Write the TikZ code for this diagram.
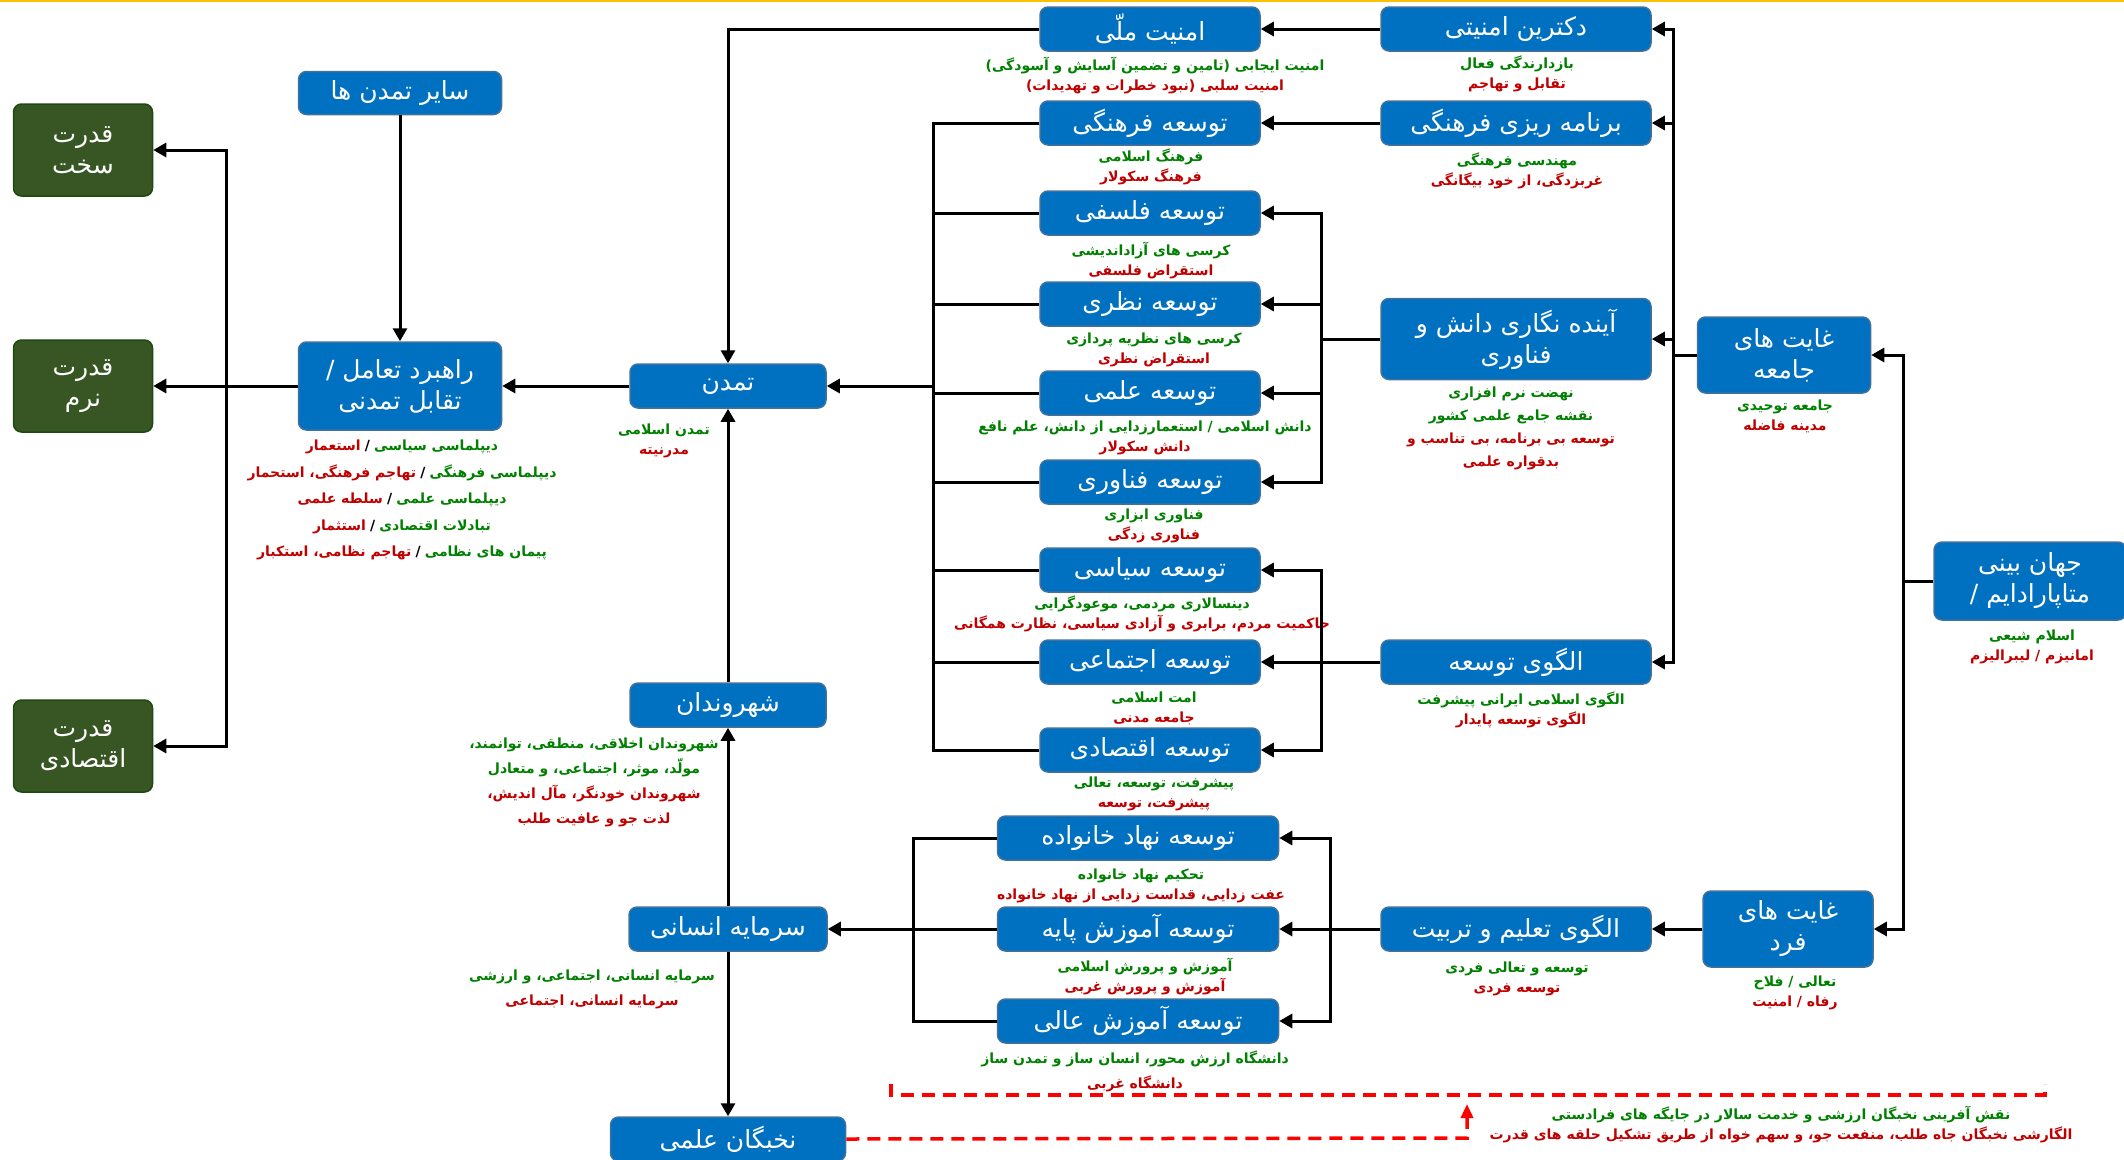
\documentclass[tikz,border=0pt]{standalone}
\usepackage{fontspec}
\usetikzlibrary{arrows.meta}
\newfontfamily\farsi[Script=Arabic]{DejaVu Sans}
\TeXXeTstate=1
\definecolor{boxblue}{HTML}{0070C0}
\definecolor{boxedge}{HTML}{41719C}
\definecolor{powergreen}{HTML}{375623}
\definecolor{poweredge}{HTML}{1C4A10}
\definecolor{txtgreen}{HTML}{008000}
\definecolor{txtred}{HTML}{C00000}
\definecolor{dashred}{HTML}{FF0000}
\definecolor{topline}{HTML}{FFC000}
\newcommand{\fa}[1]{\hbox{\beginR #1\endR}}
\newcommand{\fg}[1]{\hbox{\color{txtgreen}\beginR #1\endR}}
\newcommand{\fr}[1]{\hbox{\color{txtred}\beginR #1\endR}}
% green part on the right, red part on the left
\newcommand{\pair}[2]{\hbox{\fr{#2}\hspace{0.3em}/\hspace{0.3em}\fg{#1}}}
\begin{document}
\begin{tikzpicture}[
    x=1pt, y=-1pt,
    box/.style={draw=boxedge, fill=boxblue, line width=1.5pt, rounded corners=8pt,
        text=white, align=center, inner sep=2pt,
        font=\farsi\fontsize{25}{31}\selectfont},
    powerbox/.style={box, draw=poweredge, fill=powergreen, minimum width=139pt, minimum height=92pt},
    desc/.style={align=center, inner sep=0pt, font=\farsi\bfseries\fontsize{14}{20}\selectfont},
    link/.style={line width=3pt},
    arr/.style={link, -{Triangle[length=13pt,width=14pt]}},
    reddash/.style={draw=dashred, line width=3.5pt, dash pattern=on 13pt off 8pt}
]
    \useasboundingbox (0,0) rectangle (2124,1159);
    \draw[topline, line width=2pt] (0,1) -- (2124,1);

    % Right side boxes
    \node[box, minimum width=192pt, minimum height=78pt] (jahan) at (2030,581) {\fa{جهان بینی}\\\fa{متاپارادایم /}};
    \node[box, minimum width=173pt, minimum height=76pt] (ghayatJ) at (1784,355) {\fa{غایت های}\\\fa{جامعه}};
    \node[box, minimum width=170pt, minimum height=76pt] (ghayatF) at (1788,929) {\fa{غایت های}\\\fa{فرد}};

    \node[box, minimum width=270pt, minimum height=44pt] (doktrin) at (1516,29) {\fa{دکترین امنیتی}};
    \node[box, minimum width=270pt, minimum height=44pt] (barnameh) at (1516,123) {\fa{برنامه ریزی فرهنگی}};
    \node[box, minimum width=270pt, minimum height=81pt] (ayandeh) at (1516,339) {\fa{آینده نگاری دانش و}\\\fa{فناوری}};
    \node[box, minimum width=270pt, minimum height=44pt] (olgoo) at (1516,662) {\fa{الگوی توسعه}};
    \node[box, minimum width=270pt, minimum height=44pt] (talim) at (1516,929) {\fa{الگوی تعلیم و تربیت}};

    % Development boxes
    \node[box, minimum width=220pt, minimum height=44pt] (amniat) at (1150,29) {\fa{امنیت ملّی}};
    \node[box, minimum width=220pt, minimum height=44pt] (farhangi) at (1150,123) {\fa{توسعه فرهنگی}};
    \node[box, minimum width=220pt, minimum height=44pt] (falsafi) at (1150,213) {\fa{توسعه فلسفی}};
    \node[box, minimum width=220pt, minimum height=44pt] (nazari) at (1150,304) {\fa{توسعه نظری}};
    \node[box, minimum width=220pt, minimum height=44pt] (elmi) at (1150,393) {\fa{توسعه علمی}};
    \node[box, minimum width=220pt, minimum height=44pt] (fanavari) at (1150,482) {\fa{توسعه فناوری}};
    \node[box, minimum width=220pt, minimum height=44pt] (siasi) at (1150,570) {\fa{توسعه سیاسی}};
    \node[box, minimum width=220pt, minimum height=44pt] (ejtemaei) at (1150,662) {\fa{توسعه اجتماعی}};
    \node[box, minimum width=220pt, minimum height=44pt] (eghtesadi) at (1150,750) {\fa{توسعه اقتصادی}};
    \node[box, minimum width=281pt, minimum height=44pt] (khanevadeh) at (1138,838) {\fa{توسعه نهاد خانواده}};
    \node[box, minimum width=281pt, minimum height=44pt] (paye) at (1138,929) {\fa{توسعه آموزش پایه}};
    \node[box, minimum width=281pt, minimum height=44pt] (aali) at (1138,1021) {\fa{توسعه آموزش عالی}};

    % Middle column
    \node[box, minimum width=196pt, minimum height=44pt] (tamadon) at (728,386) {\fa{تمدن}};
    \node[box, minimum width=196pt, minimum height=44pt] (shahrvandan) at (728,705) {\fa{شهروندان}};
    \node[box, minimum width=198pt, minimum height=44pt] (sarmaye) at (728,929) {\fa{سرمایه انسانی}};
    \node[box, minimum width=235pt, minimum height=44pt] (nokhbegan) at (728,1139) {\fa{نخبگان علمی}};

    % Left side
    \node[box, minimum width=203pt, minimum height=43pt] (sayer) at (400,93) {\fa{سایر تمدن ها}};
    \node[box, minimum width=203pt, minimum height=88pt] (rahbord) at (400,386) {\fa{راهبرد تعامل /}\\\fa{تقابل تمدنی}};
    \node[powerbox] (sakht) at (83,150) {\fa{قدرت}\\\fa{سخت}};
    \node[powerbox] (narm) at (83,386) {\fa{قدرت}\\\fa{نرم}};
    \node[powerbox] (eghtesadiP) at (83,746) {\fa{قدرت}\\\fa{اقتصادی}};

    % Descriptions
    \node[desc] (jahanD) at (2032,647) {\fg{اسلام شیعی}\\\fr{امانیزم / لیبرالیزم}};
    \node[desc] (ghayatJD) at (1785,416) {\fg{جامعه توحیدی}\\\fr{مدینه فاضله}};
    \node[desc] (ghayatFD) at (1795,993) {\fg{تعالی / فلاح}\\\fr{رفاه / امنیت}};
    \node[desc] (doktrinD) at (1517,74) {\fg{بازدارندگی فعال}\\\fr{تقابل و تهاجم}};
    \node[desc] (barnamehD) at (1517,171) {\fg{مهندسی فرهنگی}\\\fr{غربزدگی، از خود بیگانگی}};
    \node[desc, font=\farsi\bfseries\fontsize{14}{23}\selectfont] (ayandehD) at (1511,428)
        {\fg{نهضت نرم افزاری}\\\fg{نقشه جامع علمی کشور}\\\fr{توسعه بی برنامه، بی تناسب و}\\\fr{بدقواره علمی}};
    \node[desc] (olgooD) at (1521,710) {\fg{الگوی اسلامی ایرانی پیشرفت}\\\fr{الگوی توسعه پایدار}};
    \node[desc] (talimD) at (1517,979) {\fg{توسعه و تعالی فردی}\\\fr{توسعه فردی}};

    \node[desc] (amniatD) at (1155,76) {\fg{امنیت ایجابی (تامین و تضمین آسایش و آسودگی)}\\\fr{امنیت سلبی (نبود خطرات و تهدیدات)}};
    \node[desc] (farhangiD) at (1151,167) {\fg{فرهنگ اسلامی}\\\fr{فرهنگ سکولار}};
    \node[desc] (falsafiD) at (1151,261) {\fg{کرسی های آزاداندیشی}\\\fr{استقراض فلسفی}};
    \node[desc] (nazariD) at (1154,350) {\fg{کرسی های نظریه پردازی}\\\fr{استقراض نظری}};
    \node[desc] (elmiD) at (1145,438) {\fg{دانش اسلامی / استعمارزدایی از دانش، علم نافع}\\\fr{دانش سکولار}};
    \node[desc] (fanavariD) at (1154,526) {\fg{فناوری ابزاری}\\\fr{فناوری زدگی}};
    \node[desc] (siasiD) at (1142,614) {\fg{دینسالاری مردمی، موعودگرایی}\\\fr{حاکمیت مردم، برابری و آزادی سیاسی، نظارت همگانی}};
    \node[desc] (ejtemaeiD) at (1154,708) {\fg{امت اسلامی}\\\fr{جامعه مدنی}};
    \node[desc] (eghtesadiD) at (1154,794) {\fg{پیشرفت، توسعه، تعالی}\\\fr{پیشرفت، توسعه}};
    \node[desc] (khanevadehD) at (1141,886) {\fg{تحکیم نهاد خانواده}\\\fr{عفت زدایی، قداست زدایی از نهاد خانواده}};
    \node[desc] (payeD) at (1145,977) {\fg{آموزش و پرورش اسلامی}\\\fr{آموزش و پرورش غربی}};
    \node[desc, font=\farsi\bfseries\fontsize{14}{25}\selectfont] (aaliD) at (1135,1071) {\fg{دانشگاه ارزش محور، انسان ساز و تمدن ساز}\\\fr{دانشگاه غربی}};

    \node[desc] (tamadonD) at (664,441) {\fg{تمدن اسلامی}\\\fr{مدرنیته}};
    \node[desc, font=\farsi\bfseries\fontsize{14}{25}\selectfont] (shahrvandanD) at (594,782)
        {\fg{شهروندان اخلاقی، منطقی، توانمند،}\\\fg{مولّد، موثر، اجتماعی، و متعادل}\\\fr{شهروندان خودنگر، مآل اندیش،}\\\fr{لذت جو و عافیت طلب}};
    \node[desc, font=\farsi\bfseries\fontsize{14}{25}\selectfont] (sarmayeD) at (592,989) {\fg{سرمایه انسانی، اجتماعی، و ارزشی}\\\fr{سرمایه انسانی، اجتماعی}};
    \node[desc, font=\farsi\bfseries\fontsize{14}{26.5}\selectfont] (rahbordD) at (402,500)
        {\pair{دیپلماسی سیاسی}{استعمار}\\
         \pair{دیپلماسی فرهنگی}{تهاجم فرهنگی، استحمار}\\
         \pair{دیپلماسی علمی}{سلطه علمی}\\
         \pair{تبادلات اقتصادی}{استثمار}\\
         \pair{پیمان های نظامی}{تهاجم نظامی، استکبار}};
    \node[desc] (nokhbeganD) at (1781,1125) {\fg{نقش آفرینی نخبگان ارزشی و خدمت سالار در جایگه های فرادستی}\\\fr{الگارشی نخبگان جاه طلب، منفعت جو، و سهم خواه از طریق تشکیل حلقه های قدرت}};

    % Bus coordinates
    \coordinate (busR) at (1673,355);
    \coordinate (busJ) at (1903,581);
    \coordinate (busA) at (1321,339);
    \coordinate (busO) at (1321,662);
    \coordinate (busT) at (1330,929);
    \coordinate (busL) at (933,386);
    \coordinate (busE) at (913,929);
    \coordinate (busP) at (226,386);

    % Right connectors
    \draw[link] (jahan.west) -- (busJ);
    \foreach \n in {ghayatJ, ghayatF} \draw[arr] (busJ) |- (\n.east);
    \draw[link] (ghayatJ.west) -- (busR);
    \foreach \n in {doktrin, barnameh, ayandeh, olgoo} \draw[arr] (busR) |- (\n.east);
    \draw[arr] (ghayatF.west) -- (talim.east);
    \draw[arr] (doktrin.west) -- (amniat.east);
    \draw[arr] (barnameh.west) -- (farhangi.east);
    \draw[link] (ayandeh.west) -- (busA);
    \foreach \n in {falsafi, nazari, elmi, fanavari} \draw[arr] (busA) |- (\n.east);
    \draw[link] (olgoo.west) -- (busO);
    \foreach \n in {siasi, ejtemaei, eghtesadi} \draw[arr] (busO) |- (\n.east);
    \draw[link] (talim.west) -- (busT);
    \foreach \n in {khanevadeh, paye, aali} \draw[arr] (busT) |- (\n.east);

    % Left connectors
    \foreach \n in {farhangi, falsafi, nazari, elmi, fanavari, siasi, ejtemaei, eghtesadi}
        \draw[link] (\n.west) -| (busL);
    \draw[arr] (busL) -- (tamadon.east);
    \draw[arr] (amniat.west) -| (tamadon.north);
    \foreach \n in {khanevadeh, paye, aali} \draw[link] (\n.west) -| (busE);
    \draw[arr] (busE) -- (sarmaye.east);
    \draw[arr] (shahrvandan.north) -- (tamadon.south);
    \draw[arr] (sarmaye.north) -- (shahrvandan.south);
    \draw[arr] (sarmaye.south) -- (nokhbegan.north);
    \draw[arr] (tamadon.west) -- (rahbord.east);
    \draw[arr] (sayer.south) -- (rahbord.north);
    \draw[arr] (rahbord.west) -- (narm.east);
    \foreach \n in {sakht, eghtesadiP} \draw[arr] (busP) |- (\n.east);

    % Red dashed bracket
    \coordinate (dashL) at (891,1084);
    \coordinate (dashR) at (2045,1084);
    \coordinate (dashUp) at (1467,1138);
    \draw[reddash] (dashL) -- ++(0,11) -| (dashR);
    \draw[reddash, -{Triangle[length=14pt,width=12pt]}] (nokhbegan.east) -- (dashUp) -- ++(0,-34);

\end{tikzpicture}
\end{document}
